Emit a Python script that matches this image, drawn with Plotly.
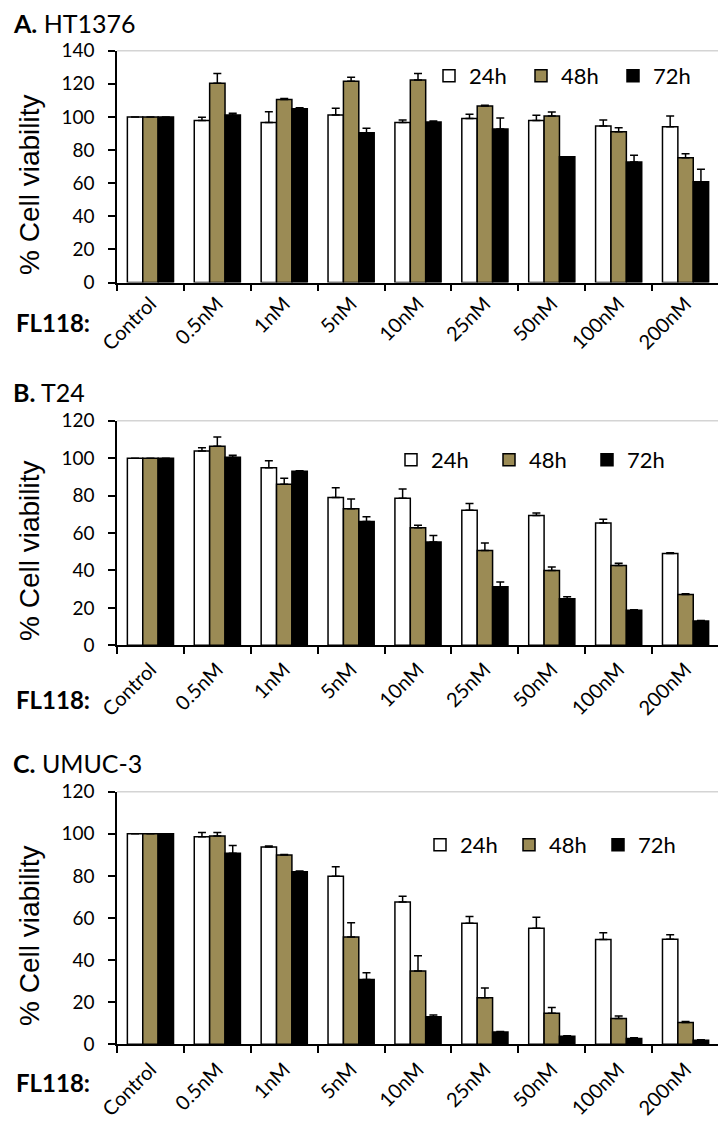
import plotly.graph_objects as go

categories = ["Control", "0.5nM", "1nM", "5nM", "10nM", "25nM", "50nM", "100nM", "200nM"]
series_names = ["24h", "48h", "72h"]

# Panel A: HT1376
ht1376_24h = [100, 97.8, 96.6, 101.2, 96.6, 99.0, 97.8, 94.5, 94.0]
ht1376_24h_err = [0, 2.0, 6.6, 4.0, 1.6, 2.6, 3.2, 3.6, 6.6]
ht1376_48h = [100, 120.3, 110.6, 121.5, 122.3, 106.6, 100.6, 91.0, 75.4]
ht1376_48h_err = [0, 6.0, 0.6, 2.4, 4.0, 0.5, 2.4, 2.4, 2.4]
ht1376_72h = [100, 101.2, 105.0, 90.5, 97.0, 92.7, 76.0, 72.8, 60.8]
ht1376_72h_err = [0, 1.0, 0.5, 2.6, 0.5, 6.6, 0, 4.0, 7.6]

# Panel B: T24
t24_24h = [100, 103.8, 94.9, 79.0, 78.5, 72.1, 69.3, 65.3, 49.0]
t24_24h_err = [0, 1.8, 3.7, 5.2, 5.0, 3.6, 1.4, 2.1, 0.5]
t24_48h = [100, 106.3, 86.0, 73.0, 62.8, 50.7, 40.0, 42.7, 27.2]
t24_48h_err = [0, 5.0, 3.2, 5.2, 1.4, 4.0, 1.8, 1.2, 0.4]
t24_72h = [100, 100.5, 93.0, 66.2, 55.2, 31.3, 24.9, 18.7, 13.0]
t24_72h_err = [0, 1.0, 0.3, 2.5, 3.4, 2.5, 1.0, 0.3, 0.3]

# Panel C: UMUC-3
umuc3_24h = [100, 98.6, 93.7, 79.8, 67.6, 57.5, 55.1, 49.8, 49.9]
umuc3_24h_err = [0, 2.0, 0.5, 4.6, 2.7, 3.2, 5.2, 3.2, 2.2]
umuc3_48h = [100, 99.0, 89.9, 51.0, 34.8, 22.1, 14.7, 12.2, 10.3]
umuc3_48h_err = [0, 1.6, 0.3, 6.8, 7.3, 4.6, 2.8, 1.3, 0.5]
umuc3_72h = [100, 90.8, 82.0, 30.8, 13.1, 5.8, 3.8, 2.8, 1.9]
umuc3_72h_err = [0, 3.6, 0.3, 3.2, 0.8, 0.3, 0.3, 0.3, 0.3]

panel_titles = ["<b>A.</b> HT1376", "<b>B.</b> T24", "<b>C.</b> UMUC-3"]
y_ranges = [[0, 140], [0, 120], [0, 120]]
y_dticks = [20, 20, 20]

panels = [
    [(ht1376_24h, ht1376_24h_err), (ht1376_48h, ht1376_48h_err), (ht1376_72h, ht1376_72h_err)],
    [(t24_24h, t24_24h_err), (t24_48h, t24_48h_err), (t24_72h, t24_72h_err)],
    [(umuc3_24h, umuc3_24h_err), (umuc3_48h, umuc3_48h_err), (umuc3_72h, umuc3_72h_err)],
]

W, H = 726, 1138
OFF = 8  # page body margin of the browser
fill_colors = ["#ffffff", "#9b8b55", "#000000"]
TICK_FONT = "Lato"

# layout geometry in window pixels
x_left, x_right = 117, 719
plot_px = [(50.7, 282.5), (420.7, 645.3), (791.7, 1044.3)]
legend_px = [(429, 76, 47), (391, 460, 53), (420, 845, 44)]
title_py = [23.5, 392, 763]
fl_py = [322, 699, 1082]
ytitle_py = [185, 551, 936]
xlabel_standoff = [0, 3, 4]

def px_x(v):
    return (v - OFF) / W

def px_y(v):
    return 1 - (v - OFF) / H

fig = go.Figure()
layout = dict()
annotations = []
shapes = []

for p in range(3):
    ax = "" if p == 0 else str(p + 1)
    leg = "legend" if p == 0 else "legend" + str(p + 1)
    for s in range(3):
        vals, errs = panels[p][s]
        fig.add_trace(go.Bar(
            x=categories, y=vals, name=series_names[s],
            xaxis="x" + ax, yaxis="y" + ax, legend=leg,
            marker=dict(color=fill_colors[s], line=dict(color="black", width=1.5)),
            error_y=dict(type="data", array=errs, arrayminus=[0] * len(errs),
                         symmetric=False, color="black", thickness=1.5, width=4),
        ))
    top, bot = plot_px[p]
    layout["xaxis" + ax] = dict(
        domain=[px_x(x_left), px_x(x_right)], anchor="y" + ax, type="category",
        showline=True, linecolor="black", linewidth=1.5, automargin=False,
        ticks="outside", tickson="boundaries", ticklen=7, tickcolor="black", tickwidth=1.5,
        tickangle=-45, ticklabelstandoff=xlabel_standoff[p],
        tickfont=dict(family=TICK_FONT, size=20, color="black"),
        showgrid=False, zeroline=False,
    )
    layout["yaxis" + ax] = dict(
        domain=[px_y(bot), px_y(top)], anchor="x" + ax, range=y_ranges[p], dtick=y_dticks[p],
        showline=True, linecolor="black", linewidth=1.5, automargin=False,
        ticks="outside", ticklen=7, tickcolor="black", tickwidth=1.5,
        ticklabelstandoff=10,
        tickfont=dict(family=TICK_FONT, size=19, color="black"),
        showgrid=False, zeroline=False,
    )
    lx, ly, lw = legend_px[p]
    layout[leg] = dict(
        orientation="h", x=px_x(lx), xanchor="left", y=px_y(ly), yanchor="middle",
        entrywidth=lw, entrywidthmode="pixels", bgcolor="rgba(0,0,0,0)",
        font=dict(family=TICK_FONT, size=22, color="black"), traceorder="normal",
    )
    # light gray plot-area border (top and right)
    shapes.append(dict(type="line", xref="x" + ax + " domain", yref="y" + ax + " domain",
                       x0=0, x1=1, y0=1, y1=1, line=dict(color="#d4d4d4", width=1.5)))
    shapes.append(dict(type="line", xref="x" + ax + " domain", yref="y" + ax + " domain",
                       x0=1, x1=1, y0=0, y1=1, line=dict(color="#d4d4d4", width=1.5)))
    annotations.append(dict(text=panel_titles[p], xref="paper", yref="paper",
                            x=px_x(11), y=px_y(title_py[p]), xanchor="left", yanchor="middle",
                            showarrow=False, font=dict(family=TICK_FONT, size=25, color="black")))
    annotations.append(dict(text="<b>FL118:</b>", xref="paper", yref="paper",
                            x=px_x(14), y=px_y(fl_py[p]), xanchor="left", yanchor="middle",
                            showarrow=False, font=dict(family=TICK_FONT, size=24, color="black")))
    annotations.append(dict(text="% Cell viability", xref="paper", yref="paper", textangle=-90,
                            x=px_x(29), y=px_y(ytitle_py[p]), xanchor="center", yanchor="middle",
                            showarrow=False,
                            font=dict(family="Liberation Sans", size=28, color="black")))

fig.update_layout(
    width=W, height=H, autosize=False,
    margin=dict(l=0, r=0, t=0, b=0),
    paper_bgcolor="white", plot_bgcolor="white",
    barmode="group", bargap=0.31, bargroupgap=0,
    shapes=shapes, annotations=annotations,
    **layout,
)

fig.write_html("out.html")
